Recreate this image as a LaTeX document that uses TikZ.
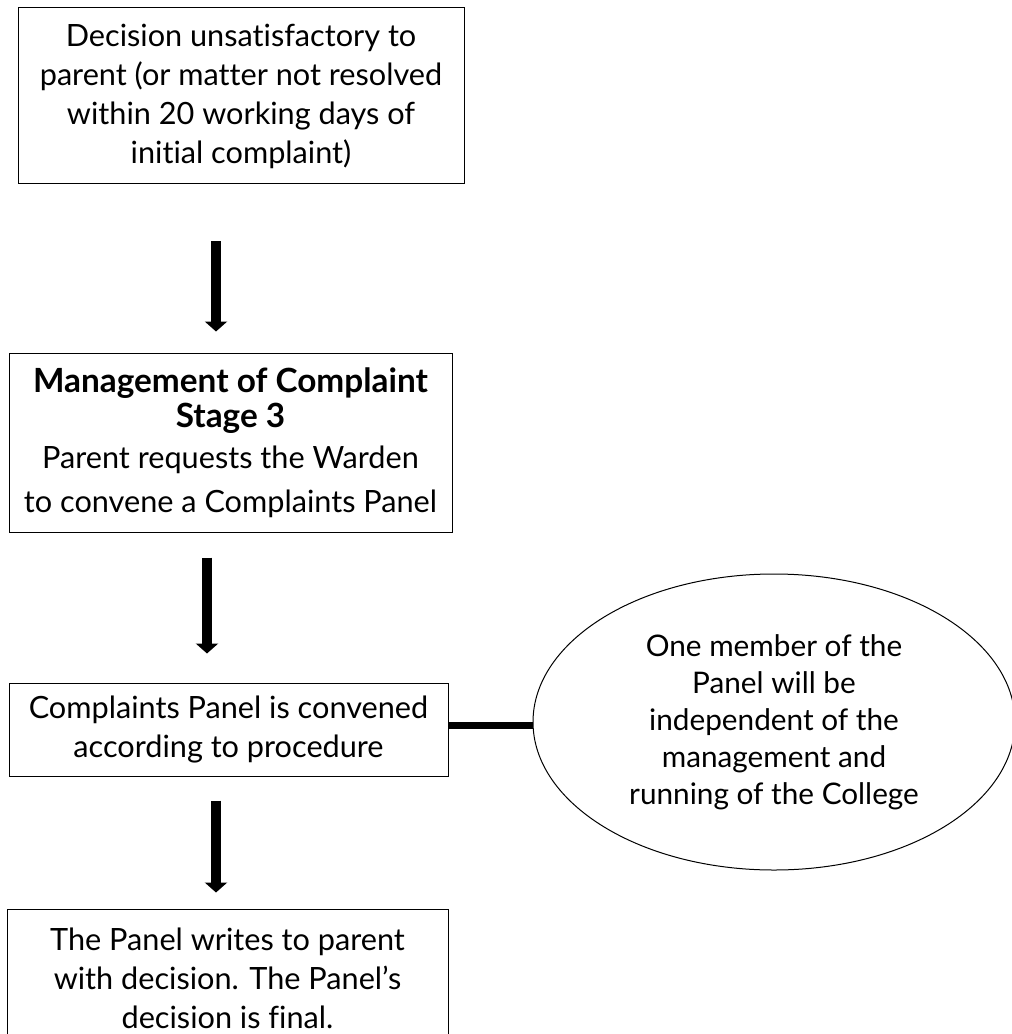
\documentclass[tikz,border=0pt]{standalone}
\usepackage{fontspec}
\setmainfont{Lato}[Ligatures=NoCommon]
\usetikzlibrary{arrows.meta,shapes.geometric}
\begin{document}
\begin{tikzpicture}[x=0.75pt,y=-0.75pt,
  box/.style={draw=black,line width=0.75pt,align=center,inner sep=0pt,font=\fontsize{23}{29.25}\selectfont},
  oval/.style={ellipse,draw=black,line width=0.75pt,align=center,inner sep=0pt,font=\fontsize{22.3}{27.75}\selectfont},
  bigarrow/.style={line width=7.5pt,-{Triangle[width=16.5pt,length=7.5pt]}},
  link/.style={line width=5.25pt}]
\useasboundingbox (0,0) rectangle (1012,1034);
\node[box,minimum width=334.5pt,minimum height=132pt] (b1) at (241,96)
  {Decision unsatisfactory to\\parent (or matter not resolved\\within 20 working days of\\initial complaint)};
\node[box,minimum width=332.25pt,minimum height=134.25pt] (b2) at (230.5,442.5)
  {{\fontsize{25}{29.25}\selectfont\textbf{Management of Complaint}}\\[-3pt]{\fontsize{25}{29.25}\selectfont\textbf{Stage 3}}\\[1.5pt]Parent requests the Warden\\[3.75pt]to convene a Complaints Panel};
\node[box,minimum width=329.25pt,minimum height=69.75pt] (b3) at (228.5,729.5)
  {Complaints Panel is convened\\according to procedure};
\node[box,minimum width=330.75pt,minimum height=103.5pt] (b4) at (227.5,978)
  {The Panel writes to parent\\with decision. The Panel's\\decision is final.};
\node[oval,minimum width=361.5pt,minimum height=222pt] (ell) at (774,722)
  {One member of the\\Panel will be\\independent of the\\management and\\running of the College};
\draw[bigarrow] ([xshift=-18.75pt,yshift=-42.75pt]b1.south) -- ([xshift=-10.875pt,yshift=15.75pt]b2.north);
\draw[bigarrow] ([xshift=-17.625pt,yshift=-18.75pt]b2.south) -- ([xshift=-16.125pt,yshift=21.75pt]b3.north);
\draw[bigarrow] ([xshift=-9.375pt,yshift=-18pt]b3.south) -- ([xshift=-8.625pt,yshift=12pt]b4.north);
\coordinate (j) at ([yshift=3.375pt]b3.east);
\draw[link] (j) -- (j -| ell.west);
\end{tikzpicture}
\end{document}
